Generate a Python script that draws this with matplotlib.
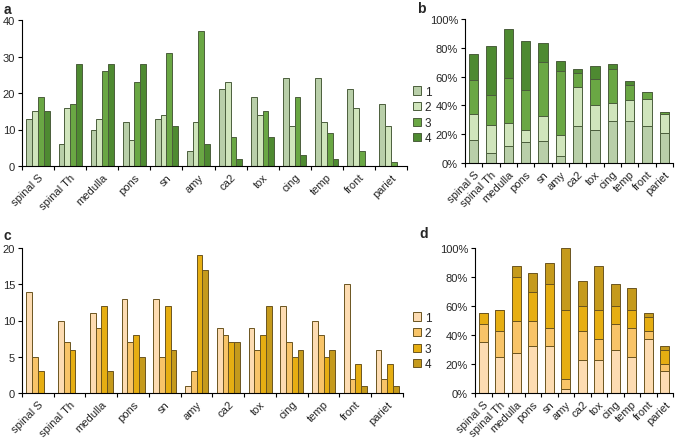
import numpy as np
import matplotlib
matplotlib.use("Agg")
import matplotlib.pyplot as plt
from matplotlib.patches import Patch
from matplotlib.ticker import PercentFormatter

plt.rcParams['font.family'] = ['Liberation Sans', 'DejaVu Sans']
plt.rcParams['font.size'] = 8
plt.rcParams['text.color'] = '#262626'
plt.rcParams['xtick.labelcolor'] = '#262626'
plt.rcParams['ytick.labelcolor'] = '#262626'

regions = ['spinal S', 'spinal Th', 'medulla', 'pons', 'sn', 'amy',
           'ca2', 'tox', 'cing', 'temp', 'front', 'pariet']
series = ['1', '2', '3', '4']

# panel a: counts
a1 = [13, 6, 10, 12, 13, 4, 21, 19, 24, 24, 21, 17]
a2 = [15, 16, 13, 7, 14, 12, 23, 14, 11, 12, 16, 11]
a3 = [19, 17, 26, 23, 31, 37, 8, 15, 19, 9, 4, 1]
a4 = [15, 28, 28, 28, 11, 6, 2, 8, 3, 2, 0, 0]

# panel b: percentages (stacked segments)
b1 = [16, 7, 12, 14.5, 15.5, 5, 25.5, 23, 29, 29, 25.5, 20.5]
b2 = [18, 19.5, 15.5, 8.5, 17, 14.5, 27.5, 17, 13, 14.5, 19, 13.5]
b3 = [23.5, 20.5, 31.5, 27.5, 37.5, 44.5, 9.5, 18, 23, 11, 5, 1.2]
b4 = [18.5, 34, 34, 34, 13.5, 7, 2.5, 9.5, 4, 2.5, 0, 0]

# panel c: counts
c1 = [14, 10, 11, 13, 13, 1, 9, 9, 12, 10, 15, 6]
c2 = [5, 7, 9, 7, 5, 3, 8, 6, 7, 8, 2, 2]
c3 = [3, 6, 12, 8, 12, 19, 7, 8, 5, 5, 4, 4]
c4 = [0, 0, 3, 5, 6, 17, 7, 12, 6, 6, 1, 1]

# panel d: percentages (stacked segments)
d1 = [35, 25, 27.5, 32.5, 32.5, 2.5, 22.5, 22.5, 30, 25, 37.5, 15]
d2 = [12.5, 17.5, 22.5, 17.5, 12.5, 7.5, 20, 15, 17.5, 20, 5, 5]
d3 = [7.5, 15, 30, 20, 30, 47.5, 17.5, 20, 12.5, 12.5, 10, 10]
d4 = [0, 0, 7.5, 12.5, 15, 42.5, 17.5, 30, 15, 15, 2.5, 2.5]

greens = ['#b9cfa9', '#d0e5bc', '#6aa744', '#4e8a31']
green_edge = '#4b5e3c'
golds = ['#fddcb2', '#f8c468', '#e6ae12', '#c59a1c']
gold_edge = '#6b5520'

W, H = 677, 439
fig = plt.figure(figsize=(W / 100, H / 100), dpi=100)


def px_axes(left, right, top, bottom):
    return fig.add_axes([left / W, 1 - bottom / H, (right - left) / W, (bottom - top) / H])


def style(ax):
    ax.spines['top'].set_visible(False)
    ax.spines['right'].set_visible(False)
    ax.spines['left'].set_linewidth(0.8)
    ax.spines['bottom'].set_linewidth(0.8)
    x = np.arange(len(regions))
    ax.set_xlim(-0.5, len(regions) - 0.5)
    ax.set_xticks(x)
    ax.set_xticklabels(regions, rotation=45, ha='right', rotation_mode='anchor')
    ax.set_xticks(np.arange(-0.5, len(regions), 1), minor=True)
    ax.tick_params(axis='x', which='major', length=0, pad=4)
    ax.tick_params(axis='x', which='minor', length=3, width=0.8)
    ax.tick_params(axis='y', length=3, width=0.8, pad=2)


def grouped(ax, data, colors, edge):
    x = np.arange(len(regions))
    w = 0.18
    for i, vals in enumerate(data):
        ax.bar(x + (i - 1.5) * w, vals, w, color=colors[i], edgecolor=edge, linewidth=0.7)
    style(ax)


def stacked(ax, data, colors, edge):
    x = np.arange(len(regions))
    bottom = np.zeros(len(regions))
    for i, vals in enumerate(data):
        ax.bar(x, vals, 0.55, bottom=bottom, color=colors[i], edgecolor=edge, linewidth=0.7)
        bottom += np.array(vals)
    style(ax)
    ax.set_ylim(0, 100)
    ax.set_yticks(range(0, 101, 20))
    ax.yaxis.set_major_formatter(PercentFormatter(decimals=0))


ax_a = px_axes(22, 407, 21, 167)
grouped(ax_a, [a1, a2, a3, a4], greens, green_edge)
ax_a.set_ylim(0, 40)
ax_a.set_yticks(range(0, 41, 10))

ax_b = px_axes(465, 673, 20, 164)
stacked(ax_b, [b1, b2, b3, b4], greens, green_edge)

ax_c = px_axes(22, 403, 249, 394)
grouped(ax_c, [c1, c2, c3, c4], golds, gold_edge)
ax_c.set_ylim(0, 20)
ax_c.set_yticks(range(0, 21, 5))

ax_d = px_axes(475, 673, 249, 394)
stacked(ax_d, [d1, d2, d3, d4], golds, gold_edge)

for colors, edge, yc in [(greens, green_edge, 116), (golds, gold_edge, 342)]:
    handles = [Patch(facecolor=colors[i], edgecolor=edge, linewidth=0.7, label=series[i])
               for i in range(4)]
    fig.legend(handles=handles, loc='center left', bbox_to_anchor=(407 / W, 1 - yc / H),
               frameon=False, handlelength=0.7, handleheight=0.7, handletextpad=0.3,
               labelspacing=0.3, fontsize=8.5, borderpad=0)

for lab, x, y in [('a', 4, 10), ('b', 417, 9), ('c', 4, 236), ('d', 419, 234)]:
    fig.text(x / W, 1 - y / H, lab, fontsize=10, fontweight='bold', va='center')

fig.savefig('out.png', dpi=100)
